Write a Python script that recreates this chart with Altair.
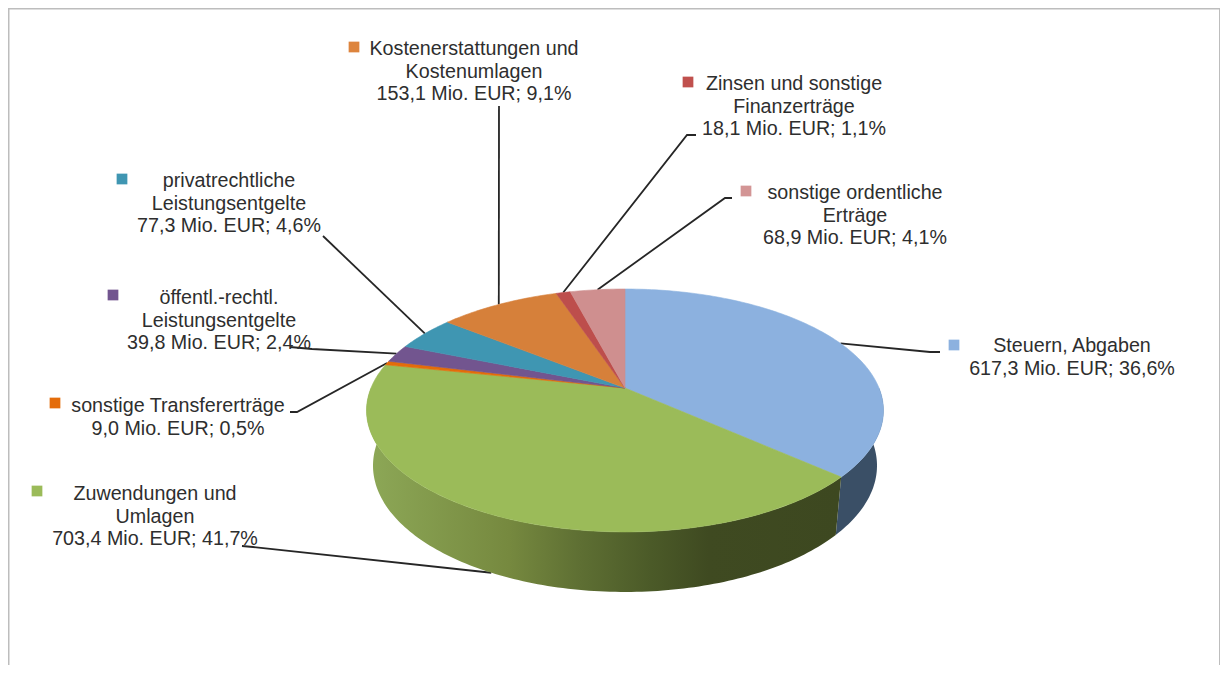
import math
import altair as alt
import pandas as pd

# ---- chart values ----
names = ["Steuern, Abgaben", "Zuwendungen und Umlagen", "sonstige Transfererträge",
         "öffentl.-rechtl. Leistungsentgelte", "privatrechtliche Leistungsentgelte",
         "Kostenerstattungen und Kostenumlagen", "Zinsen und sonstige Finanzerträge",
         "sonstige ordentliche Erträge"]
values = [617.3, 703.4, 9.0, 39.8, 77.3, 153.1, 18.1, 68.9]
colors = ["#8cb1df", "#9bbb59", "#e46c0a", "#72558f", "#3f96b2", "#d6803a", "#bd4e4c", "#cf8f8f"]
marker_colors = ["#8cb1df", "#9bbb59", "#e46c0a", "#72558f", "#3f96b2", "#dd843d", "#c0504d", "#d39595"]
label_lines = [
    ["Steuern, Abgaben", "617,3 Mio. EUR; 36,6%"],
    ["Zuwendungen und", "Umlagen", "703,4 Mio. EUR; 41,7%"],
    ["sonstige Transfererträge", "9,0 Mio. EUR; 0,5%"],
    ["öffentl.-rechtl.", "Leistungsentgelte", "39,8 Mio. EUR; 2,4%"],
    ["privatrechtliche", "Leistungsentgelte", "77,3 Mio. EUR; 4,6%"],
    ["Kostenerstattungen und", "Kostenumlagen", "153,1 Mio. EUR; 9,1%"],
    ["Zinsen und sonstige", "Finanzerträge", "18,1 Mio. EUR; 1,1%"],
    ["sonstige ordentliche", "Erträge", "68,9 Mio. EUR; 4,1%"],
]

# ---- layout (page pixels) ----
W, H = 1220, 665
label_center = [1072, 155, 178, 219, 229, 474, 794, 855]
label_top = [346, 494, 406, 298, 181, 49, 84, 193]
line_step = 22.6
marker_xy = [(954, 345), (37, 491), (55, 403), (113, 295), (122, 179), (354, 47), (688, 82), (746, 191)]
# leader bends after the rim anchor
leader_bends = [
    [(930, 352), (940, 352)],
    [(253, 547), (242, 546)],
    [(297, 412), (290, 412)],
    [(312, 349), (290, 347)],
    [(323, 236)],
    [(499, 106)],
    [(687, 135), (696, 135)],
    [(725, 198), (732, 198)],
]
CX, CY, A, B, K = 625.0, 388.0, 254.0, 117.3, 0.185
DEPTH, SHRINK = 54.2, 0.975


def rim(theta):
    u, v = math.sin(theta), -math.cos(theta)
    w = 1 - K * v
    return CX + A * u / w, CY + B * v / w, w


def low(theta):
    x, y, w = rim(theta)
    return CX + (x - CX) * SHRINK, y + DEPTH / w ** 0.5


total = sum(values)
edges = [0.0]
for val in values:
    edges.append(edges[-1] + val / total * 2 * math.pi)

rows = []
for name, a0, a1 in zip(names, edges[:-1], edges[1:]):
    rows.append(dict(s=name, i=0, x=CX, y=CY))
    n = max(2, int(math.degrees(a1 - a0)))
    for j in range(n + 1):
        x, y, _ = rim(a0 + (a1 - a0) * j / n)
        rows.append(dict(s=name, i=j + 1, x=x, y=y))
    rows.append(dict(s=name, i=n + 2, x=CX, y=CY))
top = pd.DataFrame(rows)


def wall(a0, a1):
    n = int(math.degrees(a1 - a0))
    pts = [rim(a0 + (a1 - a0) * j / n)[:2] for j in range(n + 1)]
    pts += [low(a1 - (a1 - a0) * j / n) for j in range(n + 1)]
    pts.append(pts[0])
    return pd.DataFrame([dict(i=i, x=p[0], y=p[1]) for i, p in enumerate(pts)])


xs = alt.X("x:Q", scale=alt.Scale(domain=[8, W], nice=False, zero=False), axis=None)
ys = alt.Y("y:Q", scale=alt.Scale(domain=[H, 8], nice=False, zero=False), axis=None)
order = alt.Order("i:Q")

green_stops = [(0.0, "#8da857"), (0.3, "#76893f"), (0.45, "#5e6f33"), (0.6, "#4b5a28"), (0.72, "#3f4a21"), (1.0, "#3d4820")]
green_wall = alt.Chart(wall(edges[1], math.radians(270))).mark_line(
    fill=alt.Gradient(gradient="linear", x1=0, x2=1, y1=0, y2=0,
                      stops=[alt.GradientStop(color=c, offset=o) for o, c in green_stops]),
    stroke=None, interpolate="linear",
).encode(x=xs, y=ys, order=order)
blue_wall = alt.Chart(wall(math.radians(90), edges[1])).mark_line(
    fill="#3a4f66", stroke=None,
).encode(x=xs, y=ys, order=order)

faces = alt.Chart(top).mark_line(strokeWidth=0.6, fillOpacity=1).encode(
    x=xs, y=ys, order=order,
    fill=alt.Fill("s:N", scale=alt.Scale(domain=names, range=colors), legend=None),
    stroke=alt.Stroke("s:N", scale=alt.Scale(domain=names, range=colors), legend=None),
)

# leaders: start on the rim at each slice's middle angle (lower rim for the front slice)
lead_rows = []
for k, (name, a0, a1) in enumerate(zip(names, edges[:-1], edges[1:])):
    mid = (a0 + a1) / 2
    if math.radians(100) < mid < math.radians(260):
        start = low(mid)
    else:
        start = rim(mid)[:2]
    for i, p in enumerate([start] + leader_bends[k]):
        lead_rows.append(dict(s=name, i=i, x=p[0], y=p[1]))
leaders = alt.Chart(pd.DataFrame(lead_rows)).mark_line(color="#262626", strokeWidth=1.8).encode(
    x=xs, y=ys, order=order, detail="s:N")

text_rows = []
for k, lines in enumerate(label_lines):
    for j, t in enumerate(lines):
        text_rows.append(dict(t=t, x=label_center[k], y=label_top[k] + j * line_step))
labels = alt.Chart(pd.DataFrame(text_rows)).mark_text(
    font="Liberation Sans", fontSize=19.7, color="#2e2e2e", align="center", baseline="middle"
).encode(x=xs, y=ys, text="t:N")

markers = alt.Chart(pd.DataFrame(dict(s=names, x=[m[0] for m in marker_xy], y=[m[1] for m in marker_xy]))).mark_square(
    size=115, opacity=1).encode(
    x=xs, y=ys,
    fill=alt.Fill("s:N", scale=alt.Scale(domain=names, range=marker_colors), legend=None))

frame = alt.Chart(pd.DataFrame(dict(x=[8.5, 8.5, W, W], y=[H, 8.5, 8.5, H], i=[0, 1, 2, 3]))).mark_line(
    color="#bdbdbd", strokeWidth=2).encode(x=xs, y=ys, order=order)

chart = alt.layer(frame, leaders, blue_wall, green_wall, faces, labels, markers).resolve_scale(
    fill="independent", stroke="independent"
).properties(
    width=W - 8, height=H - 8, padding=0, autosize=alt.AutoSizeParams(type="none"),
    background="white",
).configure_view(stroke=None)

chart.save("out.html", embed_options={"renderer": "svg", "actions": False})
